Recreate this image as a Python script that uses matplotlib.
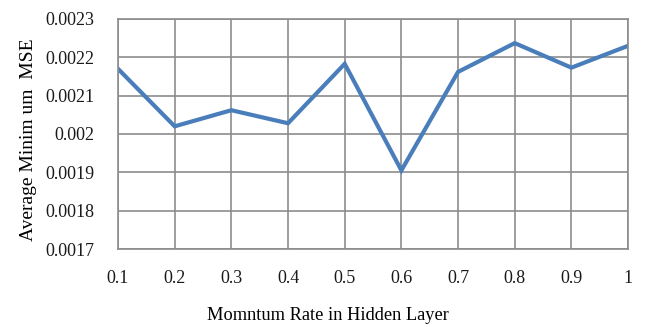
import matplotlib
matplotlib.use("Agg")
import matplotlib.pyplot as plt

momentum = [0.1, 0.2, 0.3, 0.4, 0.5, 0.6, 0.7, 0.8, 0.9, 1.0]
mse = [0.00217, 0.00202, 0.002062, 0.002028, 0.002183, 0.001905,
       0.002162, 0.002237, 0.002173, 0.00223]
x_labels = ["0.1", "0.2", "0.3", "0.4", "0.5", "0.6", "0.7", "0.8", "0.9", "1"]
y_ticks = [0.0017, 0.0018, 0.0019, 0.002, 0.0021, 0.0022, 0.0023]
y_labels = ["0.0017", "0.0018", "0.0019", "0.002", "0.0021", "0.0022", "0.0023"]

plt.rcParams["font.family"] = ["Liberation Serif", "DejaVu Serif"]

fig = plt.figure(figsize=(6.57, 3.27), dpi=100)
ax = fig.add_axes([0.1796, 0.2385, 0.7764, 0.7035])

ax.plot(momentum, mse, color="#4A7EBB", lw=3, solid_joinstyle="miter")

ax.set_xlim(0.1, 1.0)
ax.set_ylim(0.0017, 0.0023)
ax.set_xticks(momentum)
ax.set_xticklabels(x_labels)
ax.set_yticks(y_ticks)
ax.set_yticklabels(y_labels)
ax.grid(True, color="#8C8C8C", lw=1.2)
ax.set_axisbelow(True)
for sp in ax.spines.values():
    sp.set_color("#8C8C8C")
    sp.set_linewidth(1.2)
ax.tick_params(length=0, labelsize=13, colors="#1a1a1a")
ax.tick_params(axis="y", pad=17)
ax.tick_params(axis="x", pad=15)

fig.text(328 / 657, 1 - 315 / 327, "Momntum Rate in Hidden Layer",
         fontsize=13.2, ha="center", va="center")
fig.text(29 / 657, 1 - 140 / 327, "Average Minim um  MSE",
         fontsize=14, ha="center", va="center", rotation=90)

fig.savefig("out.png", dpi=100)
